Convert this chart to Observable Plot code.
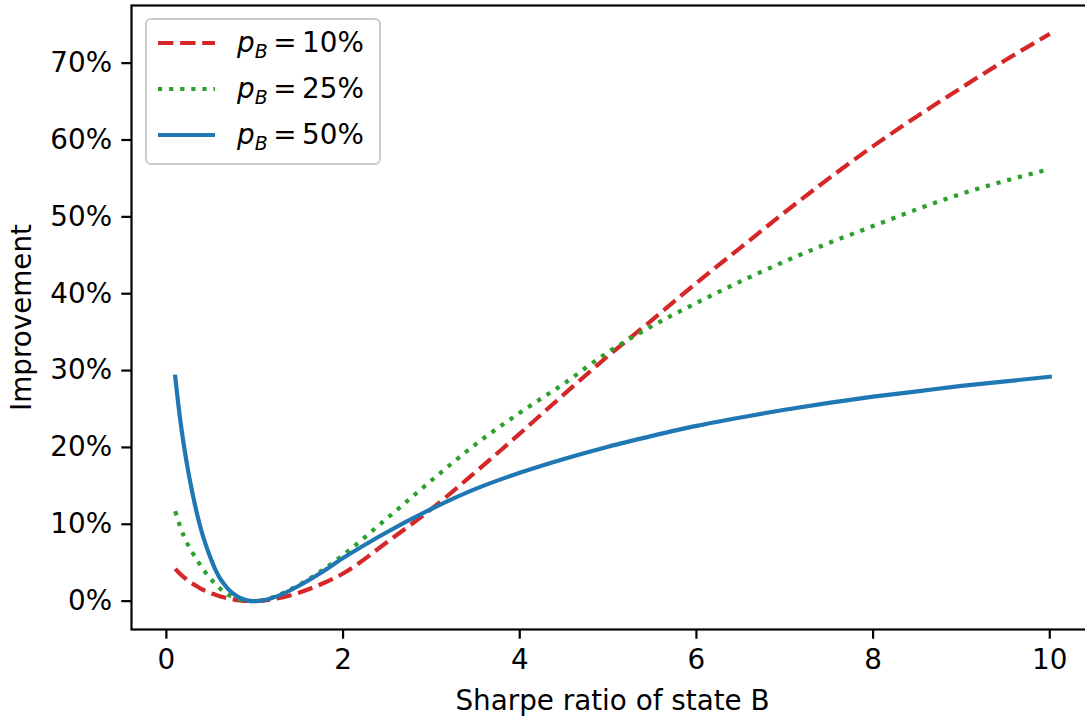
<!DOCTYPE html>
<html>
<head>
<meta charset="utf-8">
<script src="https://cdn.jsdelivr.net/npm/d3@7"></script>
<script src="https://cdn.jsdelivr.net/npm/@observablehq/plot@0.6"></script>
<style>
  html, body { margin: 0; padding: 0; background: #fff; overflow: hidden; }
  #wrap { position: relative; width: 1085px; height: 717px; overflow: hidden; }
  #wrap svg { max-width: none !important; }
  #legend {
    position: absolute; left: 145px; top: 18px; width: 232px; height: 143px;
    border: 2.2px solid #cccccc; border-radius: 6px; background: rgba(255,255,255,0.8);
    font-family: "DejaVu Sans", sans-serif; font-size: 27.8px; color: #000;
  }
  .row { position: absolute; left: 0; height: 40px; display: flex; align-items: center; }
  .row svg { margin-left: 10px; }
  .row .lab { position: absolute; left: 90px; white-space: nowrap; line-height: 1; top: 6px; }
  .row .lab i { font-style: oblique; }
  .row .lab sub { font-size: 0.68em; vertical-align: -0.32em; font-style: oblique; }
</style>
</head>
<body>
<div id="wrap"></div>
<script>
// Sharpe ratio of state B (x values)
const sharpe = [0.1, 0.15, 0.2, 0.25, 0.3, 0.35, 0.4, 0.45, 0.5, 0.55, 0.6, 0.65, 0.7, 0.75, 0.8, 0.85, 0.9, 0.95, 1.0, 1.1, 1.25, 1.5, 1.75, 2, 2.5, 3, 3.5, 4, 4.5, 5, 5.5, 6, 6.5, 7, 7.5, 8, 8.5, 9, 9.5, 10];
// Improvement (%) for p_B = 10%
const improvementP10 = [4.2, 3.6, 3.1, 2.6, 2.25, 1.9, 1.55, 1.3, 1.05, 0.85, 0.65, 0.5, 0.35, 0.24, 0.14, 0.07, 0.03, 0.01, 0, 0.06, 0.35, 1.1, 2.2, 3.6, 7.7, 12.0, 16.8, 21.8, 26.9, 31.9, 36.6, 41.4, 46.0, 50.6, 55.0, 59.2, 63.1, 66.8, 70.4, 73.8];
// Improvement (%) for p_B = 25%
const improvementP25 = [11.7, 9.9, 8.4, 7.2, 6.2, 5.3, 4.4, 3.6, 2.9, 2.3, 1.7, 1.25, 0.85, 0.55, 0.3, 0.15, 0.06, 0.01, 0, 0.12, 0.7, 2.1, 3.9, 6.0, 10.8, 15.7, 20.4, 24.5, 28.3, 32.4, 35.8, 38.8, 41.6, 44.2, 46.6, 48.8, 51.0, 53.0, 54.7, 56.2];
// Improvement (%) for p_B = 50%
const improvementP50 = [29.2, 24.2, 20.1, 16.7, 13.8, 11.2, 9.0, 7.2, 5.6, 4.2, 3.1, 2.25, 1.57, 1.03, 0.62, 0.34, 0.14, 0.03, 0, 0.12, 0.62, 2.0, 3.7, 5.6, 9.0, 12.0, 14.6, 16.7, 18.5, 20.1, 21.5, 22.8, 23.9, 24.9, 25.8, 26.6, 27.3, 28.0, 28.6, 29.2];

const seriesLabels = ["10%", "25%", "50%"];
const seriesColors = ["#d62728", "#2ca02c", "#1f77b4"];
const seriesDash = ["15.4,6.7", "4.2,6.9", null];
const xTicks = [0, 2, 4, 6, 8, 10];
const yTicks = [0, 0.1, 0.2, 0.3, 0.4, 0.5, 0.6, 0.7];
const xLabel = "Sharpe ratio of state B";
const yLabel = "Improvement";

const seriesValues = [improvementP10, improvementP25, improvementP50];
const seriesData = seriesValues.map((vals, k) =>
  sharpe.map((x, i) => ({x, y: vals[i] / 100, s: seriesLabels[k]}))
);

const fs = 27.8;
const lineMarks = seriesData.map((data, k) =>
  Plot.line(data, {
    x: "x", y: "y",
    stroke: seriesColors[k],
    strokeWidth: 4.2,
    strokeDasharray: seriesDash[k] || undefined,
    strokeLinecap: seriesDash[k] ? "butt" : "square",
    curve: "monotone-x"
  })
);

const chart = Plot.plot({
  width: 1093,
  height: 717,
  marginLeft: 131,
  marginRight: 0,
  marginTop: 5,
  marginBottom: 88,
  style: {fontFamily: "DejaVu Sans", fontSize: fs + "px", color: "black", background: "white", maxWidth: "none"},
  x: {domain: [-0.395, 10.495]},
  y: {domain: [-0.0369, 0.775]},
  marks: [
    ...lineMarks,
    Plot.axisX({ticks: xTicks, tickSize: 9.7, tickPadding: 9.7, strokeWidth: 2.2, fontSize: fs, label: null, tickFormat: d3.format("d")}),
    Plot.axisY({ticks: yTicks, tickSize: 9.7, tickPadding: 9.7, strokeWidth: 2.2, fontSize: fs, label: null, tickFormat: d3.format(".0%")}),
    Plot.frame({stroke: "black", strokeWidth: 2.2}),
    Plot.text([xLabel], {text: d => d, frameAnchor: "bottom", lineAnchor: "top", textAnchor: "middle", dy: 61, fontSize: fs}),
    Plot.text([yLabel], {text: d => d, frameAnchor: "left", textAnchor: "middle", lineAnchor: "middle", rotate: -90, dx: -109, fontSize: fs})
  ]
});

const wrap = document.getElementById("wrap");
wrap.appendChild(chart);

// Legend
const legend = document.createElement("div");
legend.id = "legend";
const rowCenters = [23, 69, 115];
seriesLabels.forEach((lab, k) => {
  const row = document.createElement("div");
  row.className = "row";
  row.style.top = (rowCenters[k] - 20) + "px";
  const dash = seriesDash[k] ? `stroke-dasharray="${seriesDash[k]}"` : "";
  row.innerHTML =
    `<svg width="60" height="40"><line x1="1" x2="58" y1="20" y2="20" stroke="${seriesColors[k]}" stroke-width="4.2" ${dash} stroke-linecap="butt"/></svg>` +
    `<span class="lab"><i>p</i><sub>B</sub>&#8201;=&#8201;${lab}</span>`;
  legend.appendChild(row);
});
wrap.appendChild(legend);
</script>
</body>
</html>
